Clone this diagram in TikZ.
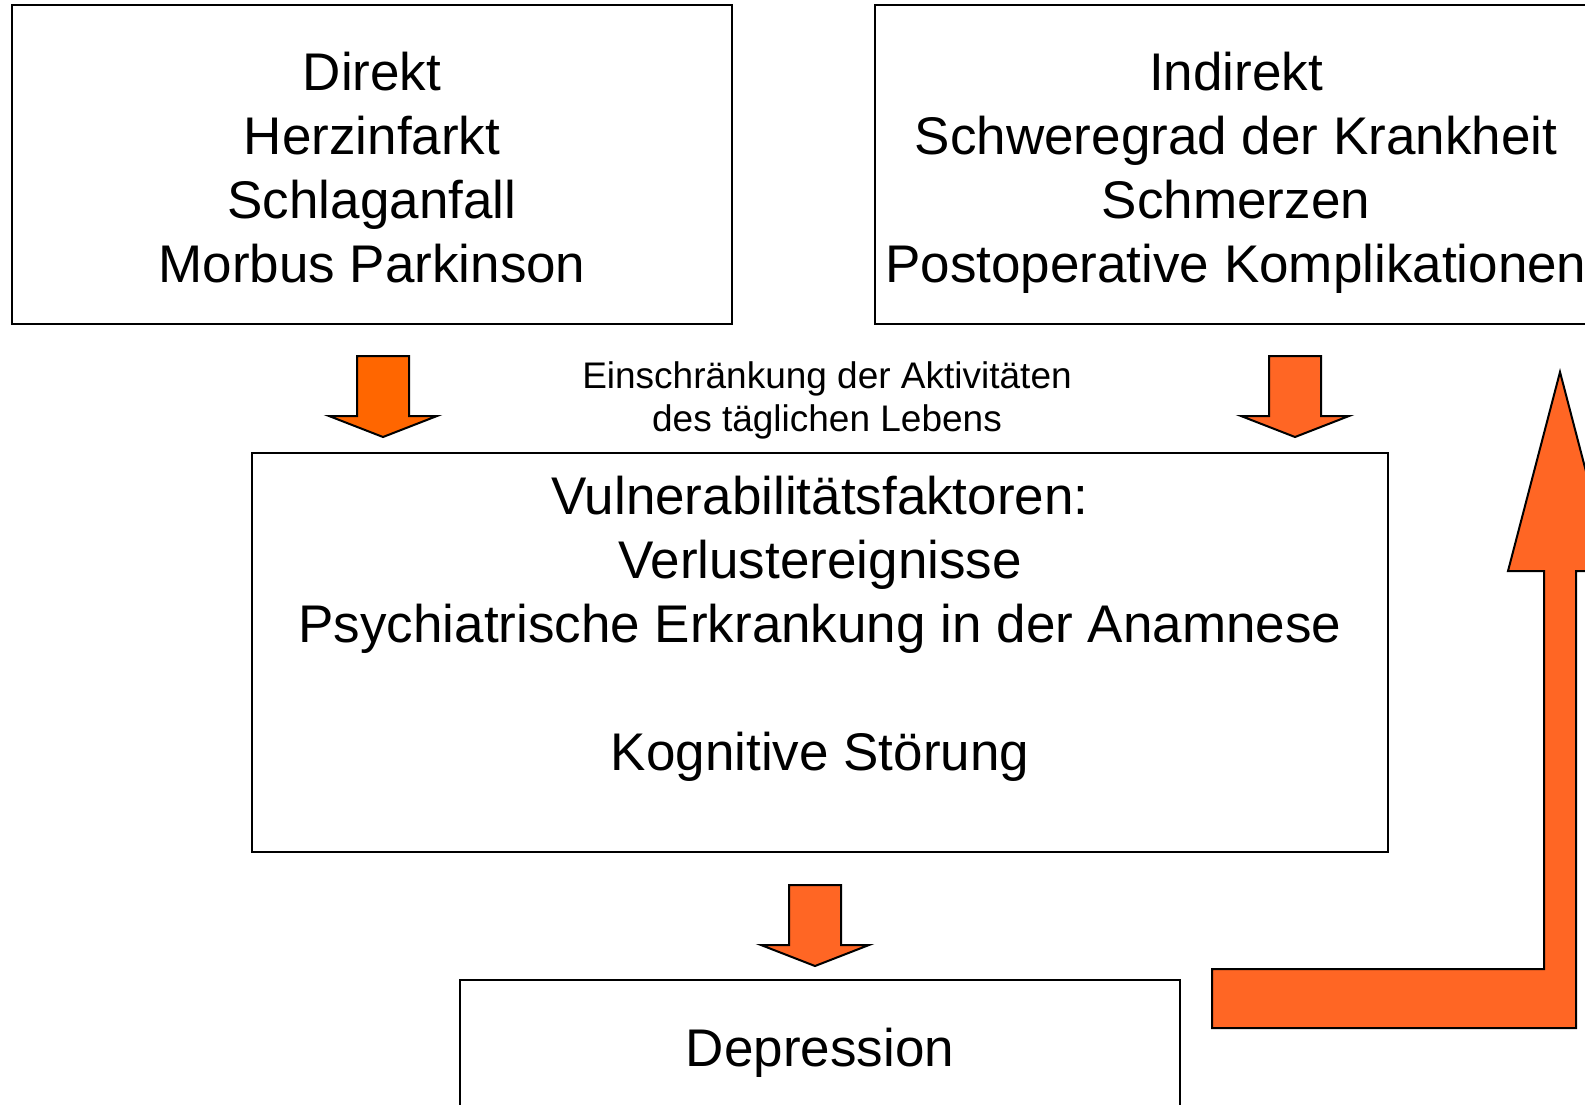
\documentclass[tikz,border=0pt]{standalone}
\usepackage{fontspec}
\setmainfont{Liberation Sans}
\definecolor{arroworange}{HTML}{FF6624}
\definecolor{arroworangeB}{HTML}{FF6600}
\tikzset{
  box/.style={draw=black, line width=2pt, fill=white, inner sep=0pt, outer sep=0pt},
  bigtext/.style={font=\fontsize{53}{64}\selectfont, align=center, anchor=base, inner sep=0pt},
  smalltext/.style={font=\fontsize{37}{43}\selectfont, align=center, anchor=base, inner sep=0pt},
  arrowshape/.style={draw=black, line width=2pt, line join=miter, fill=arroworange},
  pics/downarrow/.style={code={
    \draw[arrowshape,#1] (-26,0) -- (26,0) -- (26,60) -- (54,60) -- (0,81) -- (-54,60) -- (-26,60) -- cycle;
  }},
}
\begin{document}
\begin{tikzpicture}[x=1pt,y=-1pt]
\useasboundingbox (0,0) rectangle (1585,1104);
\clip (0,0) rectangle (1585,1104);
\fill[white] (0,0) rectangle (1585,1104);

% boxes
\node[box, minimum width=720pt, minimum height=319pt] (direkt) at (372,164.5) {};
\node[box, minimum width=722pt, minimum height=319pt] (indirekt) at (1236,164.5) {};
\node[box, minimum width=1136pt, minimum height=399pt] (vuln) at (820,652.5) {};
\node[box, minimum width=720pt, minimum height=320pt] (depr) at (820,1140) {};

% texts (anchor = baseline of the last line)
\node[bigtext] (tdirekt) at (372,282) {Direkt\\Herzinfarkt\\Schlaganfall\\Morbus Parkinson};
\node[bigtext] (tindirekt) at (1236,282) {Indirekt\\Schweregrad der Krankheit\\Schmerzen\\Postoperative Komplikationen};
\node[bigtext] (tvuln) at (820,770) {Vulnerabilitätsfaktoren:\\Verlustereignisse\\Psychiatrische Erkrankung in der Anamnese\\[64pt]Kognitive Störung};
\node[bigtext] (tdepr) at (820,1066) {Depression};
\node[smalltext] (tadl) at (827,431) {Einschränkung der Aktivitäten\\des täglichen Lebens};

% block arrows
\pic (a1) at (383,356) {downarrow={fill=arroworangeB}};
\pic (a2) at (1295,356) {downarrow={}};
\pic (a3) at (815,885) {downarrow={}};

% bent feedback arrow
\coordinate (bA) at (1212,969);
\coordinate (bB) at (1544,969);
\coordinate (bC) at (1544,571);
\coordinate (bD) at (1508,571);
\coordinate (bTip) at (1560,372);
\coordinate (bE) at (1612,571);
\coordinate (bF) at (1576,571);
\coordinate (bG) at (1576,1028);
\coordinate (bH) at (1212,1028);
\draw[arrowshape] (bA) -- (bB) -- (bC) -- (bD) -- (bTip) -- (bE) -- (bF) -- (bG) -- (bH) -- cycle;
\end{tikzpicture}
\end{document}
